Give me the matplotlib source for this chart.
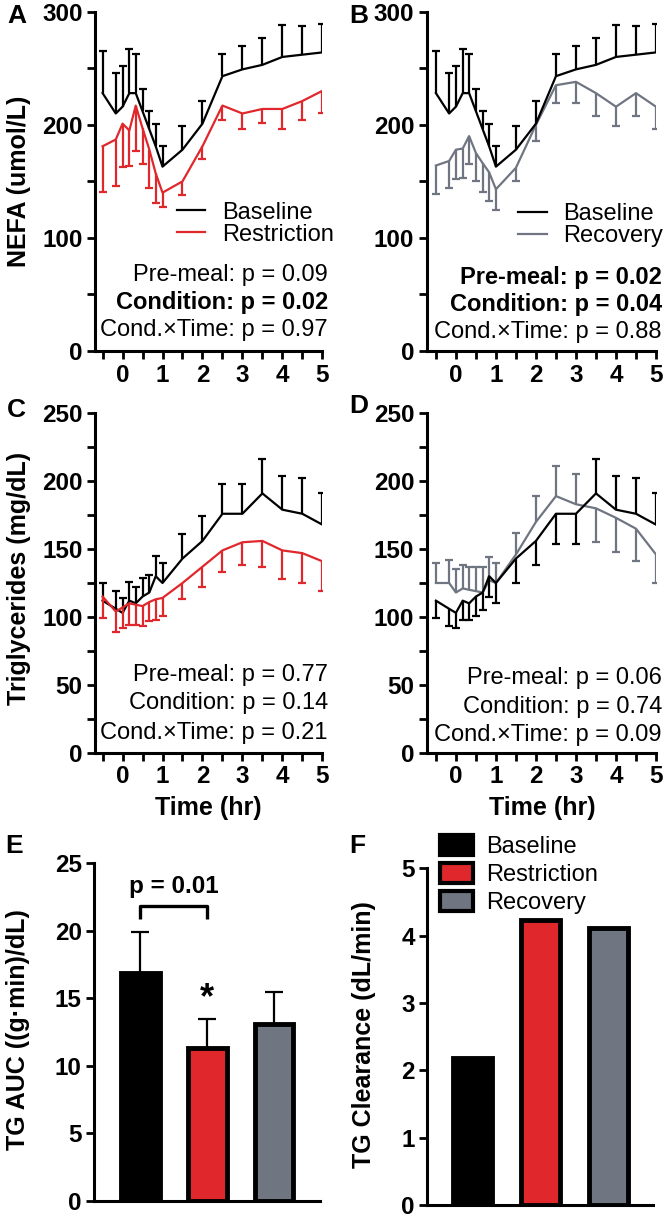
import numpy as np
import matplotlib
matplotlib.use('Agg')
import matplotlib.pyplot as plt
from matplotlib.lines import Line2D
from matplotlib.patches import Patch

plt.rcParams['font.family'] = ['Liberation Sans', 'DejaVu Sans']
plt.rcParams['font.weight'] = 'bold'

# ---------------- data ----------------
time_hr = [-0.5, -0.17, 0, 0.17, 0.33, 0.5, 0.67, 0.83, 1, 1.5, 2, 2.5, 3, 3.5, 4, 4.5, 5]

nefa_base = [228, 210, 216, 228, 228, 212, 196, 181, 163, 178, 201, 243, 249, 253, 260, 262, 264]
nefa_base_sem = [37, 36, 36, 39, 35, 20, 16, 20, 18, 21, 20, 20, 21, 24, 28, 25, 25]
nefa_restr = [181, 187, 201, 195, 217, 197, 178, 157, 140, 150, 181, 217, 210, 214, 214, 221, 230]
nefa_restr_sem = [40, 41, 38, 31, 40, 32, 34, 26, 13, 12, 11, 13, 14, 12, 18, 17, 20]
nefa_recov = [164, 168, 178, 179, 190, 175, 166, 158, 143, 162, 200, 235, 238, 228, 216, 228, 216]
nefa_recov_sem = [25, 24, 26, 26, 25, 25, 25, 25, 18, 12, 14, 16, 19, 20, 17, 20, 20]

tg_base = [112, 106, 103, 112, 110, 115, 118, 130, 125, 143, 156, 176, 176, 191, 179, 176, 168]
tg_base_sem = [13, 13, 11, 14, 12, 14, 13, 15, 15, 18, 18, 22, 22, 25, 25, 26, 23]
tg_restr = [115, 104, 107, 110, 109, 108, 111, 113, 114, 125, 137, 149, 155, 156, 149, 147, 141]
tg_restr_sem = [16, 15, 15, 16, 15, 15, 14, 15, 13, 12, 15, 16, 17, 19, 21, 22, 22]
tg_recov = [125, 125, 118, 121, 120, 119, 118, 127, 125, 146, 170, 189, 183, 180, 173, 165, 146]
tg_recov_sem = [15, 17, 17, 17, 17, 18, 19, 17, 15, 16, 19, 22, 22, 25, 25, 24, 21]
# side the recovery SEM bars are drawn on in panel D (+1 up, -1 down); baseline takes the other side
d_recov_side = [1, 1, 1, 1, 1, 1, 1, 1, 1, 1, 1, 1, 1, -1, -1, -1, -1]

groups = ['Baseline', 'Restriction', 'Recovery']
tg_auc = [16.9, 11.3, 13.1]
tg_auc_sem = [3.0, 2.2, 2.35]
tg_clearance = [2.19, 4.23, 4.12]

stats_a = [('Pre-meal: p = 0.09', 'normal'), ('Condition: p = 0.02', 'bold'), ('Cond.\u00d7Time: p = 0.97', 'normal')]
stats_b = [('Pre-meal: p = 0.02', 'bold'), ('Condition: p = 0.04', 'bold'), ('Cond.\u00d7Time: p = 0.88', 'normal')]
stats_c = [('Pre-meal: p = 0.77', 'normal'), ('Condition: p = 0.14', 'normal'), ('Cond.\u00d7Time: p = 0.21', 'normal')]
stats_d = [('Pre-meal: p = 0.06', 'normal'), ('Condition: p = 0.74', 'normal'), ('Cond.\u00d7Time: p = 0.09', 'normal')]

RED = '#e0282c'
GRAY = '#6f7682'
bar_colors = ['black', RED, GRAY]

W, H = 667, 1217
fig = plt.figure(figsize=(W / 100, H / 100), dpi=100)


def px_axes(left, top, right, bottom):
    return fig.add_axes([left / W, 1 - bottom / H, (right - left) / W, (bottom - top) / H])


def style(ax):
    for s in ['top', 'right']:
        ax.spines[s].set_visible(False)
    for s in ['left', 'bottom']:
        ax.spines[s].set_linewidth(2.2)
    ax.tick_params(which='both', width=2.0, length=6, labelsize=17.5, pad=3)


def time_axis(ax, ymax, major, minor):
    style(ax)
    ticks = np.arange(-0.5, 5.01, 0.5)
    ax.set_xticks(ticks)
    ax.set_xticklabels([str(int(t)) if t == int(t) else '' for t in ticks])
    ax.set_ylim(0, ymax)
    ax.set_yticks(np.arange(0, ymax + 1, major))
    ax.set_yticks(np.arange(minor, ymax, major), minor=True)


def series(ax, mean, sem, side, color):
    m = np.array(mean, float)
    end = m + np.array(side) * np.array(sem, float)
    ax.vlines(time_hr, m, end, color=color, lw=1.6)
    ax.plot(time_hr, end, ls='none', marker='_', ms=5.5, mew=1.6, color=color)
    ax.plot(time_hr, m, color=color, lw=1.6)


def stats(ax, lines, x, ys):
    for (txt, w), y in zip(lines, ys):
        ax.text(x, y, txt, transform=ax.transAxes, ha='right', va='center',
                fontsize=17, fontweight=w)


def line_legend(ax, color, label, anchor):
    h = [Line2D([], [], color='black', lw=1.6), Line2D([], [], color=color, lw=1.6)]
    ax.legend(h, ['Baseline', label], loc='upper left', bbox_to_anchor=anchor,
              frameon=False, prop={'size': 17, 'weight': 'normal'}, handlelength=1.2,
              handletextpad=0.7, labelspacing=0.0, borderpad=0, borderaxespad=0)


up = [1] * len(time_hr)
down = [-1] * len(time_hr)

# ---------------- A ----------------
axA = px_axes(95, 11.7, 322.3, 351)
time_axis(axA, 300, 100, 50)
axA.set_xlim(-0.69, 5)
series(axA, nefa_base, nefa_base_sem, up, 'black')
series(axA, nefa_restr, nefa_restr_sem, down, RED)
line_legend(axA, RED, 'Restriction', (0.36, 0.44))
stats(axA, stats_a, 1.025, [0.224, 0.142, 0.062])

# ---------------- B ----------------
axB = px_axes(426.7, 11.7, 656, 351)
time_axis(axB, 300, 100, 50)
axB.set_xlim(-0.73, 5)
series(axB, nefa_recov, nefa_recov_sem, down, GRAY)
series(axB, nefa_base, nefa_base_sem, up, 'black')
line_legend(axB, GRAY, 'Recovery', (0.40, 0.435))
stats(axB, stats_b, 1.026, [0.218, 0.136, 0.056])

# ---------------- C ----------------
axC = px_axes(95, 413.3, 322.3, 752.7)
time_axis(axC, 250, 50, 25)
axC.set_xlim(-0.69, 5)
series(axC, tg_base, tg_base_sem, up, 'black')
series(axC, tg_restr, tg_restr_sem, down, RED)
stats(axC, stats_c, 1.025, [0.229, 0.146, 0.058])

# ---------------- D ----------------
axD = px_axes(426.7, 413.3, 656, 752.7)
time_axis(axD, 250, 50, 25)
axD.set_xlim(-0.73, 5)
series(axD, tg_recov, tg_recov_sem, d_recov_side, GRAY)
series(axD, tg_base, tg_base_sem, [-s for s in d_recov_side], 'black')
stats(axD, stats_d, 1.026, [0.220, 0.135, 0.052])

# ---------------- E ----------------
axE = px_axes(94.3, 863.3, 320, 1200.7)
style(axE)
x = np.arange(len(groups))
axE.bar(x, tg_auc, width=0.58, color=bar_colors, edgecolor='black', linewidth=3.5, zorder=2)
tops = np.array(tg_auc) + np.array(tg_auc_sem)
axE.vlines(x, tg_auc, tops, color='black', lw=1.6, zorder=1)
axE.plot(x, tops, ls='none', marker='_', ms=13, mew=1.6, color='black')
axE.plot([0, 0, 1, 1], [20.85, 21.8, 21.8, 20.85], color='black', lw=2.4, solid_capstyle='butt')
axE.text(0.5, 23.3, 'p = 0.01', ha='center', va='center', fontsize=17.5)
axE.text(1, 15.0, '*', ha='center', va='center', fontsize=26)
axE.set_xlim(-0.69, 2.69)
axE.set_ylim(0, 25)
axE.set_yticks(np.arange(0, 26, 5))
axE.set_xticks([])

# ---------------- F ----------------
axF = px_axes(427.3, 868.3, 653, 1205)
style(axF)
axF.bar(x, tg_clearance, width=0.58, color=bar_colors, edgecolor='black', linewidth=3.5, zorder=2)
axF.set_xlim(-0.67, 2.66)
axF.set_ylim(0, 5)
axF.set_yticks(np.arange(0, 6, 1))
axF.set_xticks([])
hF = [Patch(facecolor=c, edgecolor='black', linewidth=3) for c in bar_colors]
axF.legend(hF, groups, loc='upper left', bbox_to_anchor=(0.056, 1.10), frameon=False,
           prop={'size': 17, 'weight': 'normal'}, handlelength=1.4, handleheight=0.95,
           handletextpad=0.55, labelspacing=0.2, borderpad=0, borderaxespad=0)

# ---------------- labels ----------------
for lab, px, py in [('A', 17, 16), ('B', 359, 16), ('C', 16, 410), ('D', 359, 406), ('E', 14, 846), ('F', 357, 846)]:
    fig.text(px / W, 1 - py / H, lab, ha='center', va='center', fontsize=19)

for lab, px, py in [('NEFA (umol/L)', 19, 181), ('Triglycerides (mg/dL)', 19, 578),
                    ('TG AUC ((g\u00b7min)/dL)', 18, 1030), ('TG Clearance (dL/min)', 364, 1035)]:
    fig.text(px / W, 1 - py / H, lab, ha='center', va='center', rotation=90, fontsize=18)

for px in [208, 542]:
    fig.text(px / W, 1 - 808 / H, 'Time (hr)', ha='center', va='center', fontsize=18)

fig.savefig('out.png', dpi=100)
